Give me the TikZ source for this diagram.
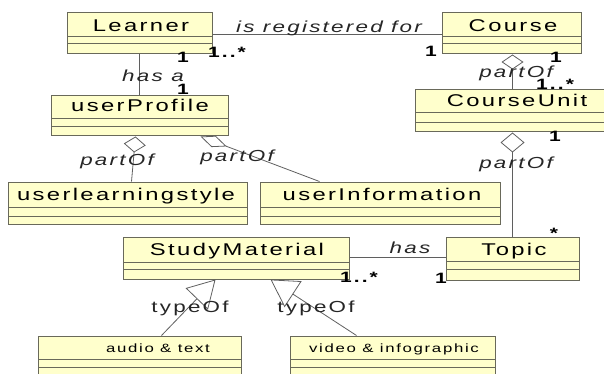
\documentclass[tikz,border=0pt]{standalone}
\usepackage{fontspec}
\setmainfont{Liberation Sans}[FakeStretch=1.4,LetterSpace=14]
\usetikzlibrary{arrows.meta,fit,calc}
\definecolor{classfill}{RGB}{255,255,204}
\definecolor{classline}{RGB}{105,105,90}
\definecolor{linkgray}{RGB}{95,95,95}
\tikzset{
  classbox/.style={draw=classline, fill=classfill, line width=1pt, inner sep=0pt},
  divider/.style={draw=classline, line width=0.8pt},
  classtitle/.style={inner sep=0pt, anchor=base, font=\fontsize{17}{19}\selectfont},
  smalltitle/.style={inner sep=0pt, anchor=base, font=\fontsize{12}{14}\selectfont},
  link/.style={draw=linkgray, line width=0.8pt},
  role/.style={inner sep=0pt, anchor=base, text=black!85, font=\fontsize{16}{18}\selectfont\itshape},
  kind/.style={inner sep=0pt, anchor=base, text=black!85, font=\fontsize{16}{18}\selectfont},
  mult/.style={inner sep=0pt, anchor=base, font=\fontsize{15}{17}\selectfont\bfseries},
}
% name, left, top, right, bottom, first divider, second divider
\newcommand{\umlclass}[7]{%
  \node[classbox, fit={(#2,#3) (#4,#5)}] (#1) {};
  \draw[divider] (#2,#6) -- (#4,#6);
  \draw[divider] (#2,#7) -- (#4,#7);
}
\begin{document}
\begin{tikzpicture}[x=1pt, y=-1pt]
            \useasboundingbox (0,0) rectangle (604,374);
            \clip (0,0) rectangle (604,374);
            % classes
            \umlclass{learner}{67}{13}{212}{54}{36}{43}
            \umlclass{course}{442}{13}{581}{54}{36}{43}
            \umlclass{profile}{51}{96}{228}{136}{118}{126}
            \umlclass{unit}{415}{90}{625}{132}{112}{122}
            \umlclass{style}{8}{182}{247}{224}{207}{216}
            \umlclass{info}{260}{182}{500}{224}{207}{216}
            \umlclass{material}{123}{237}{349}{279}{262}{269}
            \umlclass{topic}{446}{237}{579}{280}{261}{269}
            \umlclass{audio}{38}{336}{241}{390}{359}{367}
            \umlclass{video}{290}{336}{495}{390}{359}{367}
            % titles
            \node[classtitle] (learner-t)  at (141,32)  {Learner};
            \node[classtitle] (course-t)   at (513,32)  {Course};
            \node[classtitle] (profile-t)  at (140,112) {userProfile};
            \node[classtitle] (unit-t)     at (517,107) {CourseUnit};
            \node[classtitle] (style-t)    at (126,200) {userlearningstyle};
            \node[classtitle] (info-t)     at (382,200) {userInformation};
            \node[classtitle] (material-t) at (237,255) {StudyMaterial};
            \node[classtitle] (topic-t)    at (514,255) {Topic};
            \node[smalltitle] (audio-t)    at (158,352) {audio \& text};
            \node[smalltitle] (video-t)    at (394,352) {video \& infographic};
            % associations
            \draw[link] ($(learner.north east)+(0,22)$) -- ($(course.north west)+(0,22)$);
            \draw[link] (learner.south) -- (learner.south |- profile.north);
            \draw[link] ($(material.north east)+(0,21)$) -- ($(topic.north west)+(0,21)$);
            % aggregations
            \draw[link, {Diamond[fill=white,length=15pt,width=22pt]}-] (topic.north |- course.south) -- (topic.north |- unit.north);
            \draw[link, {Diamond[fill=white,length=20pt,width=24pt]}-] (topic.north |- unit.south) -- (topic.north);
            \draw[link, {Diamond[fill=white,length=16pt,width=22pt]}-] ($(profile.south west)+(85,0)$) -- ($(style.north west)+(124,0)$);
            \draw[link, {Diamond[fill=white,length=28pt,width=12pt]}-] ($(profile.south west)+(150,0)$) -- ($(info.north west)+(60,0)$);
            % generalizations
            \draw[link, -{Triangle[open,length=27pt,width=31pt]}] ($(audio.north west)+(124,0)$) -- ($(material.south west)+(93,0)$);
            \draw[link, -{Triangle[open,length=27pt,width=31pt]}] ($(video.north west)+(67,0)$) -- ($(material.south west)+(148,0)$);
            % labels
            \node[role] (reg-l)   at (329,33)  {is registered for};
            \node[role] (hasa-l)  at (153,82)  {has a};
            \node[role] (part1-l) at (516,78)  {partOf};
            \node[role] (part2-l) at (516,168) {partOf};
            \node[role] (part3-l) at (117,165) {partOf};
            \node[role] (part4-l) at (237,161) {partOf};
            \node[role] (has-l)   at (410,253) {has};
            \node[kind] (type1-l) at (190,312) {typeOf};
            \node[kind] (type2-l) at (316,312) {typeOf};
            % multiplicities
            \node[mult] (m1)  at (183,63)  {1};
            \node[mult] (m2)  at (227,58)  {1..*};
            \node[mult] (m3)  at (431,57)  {1};
            \node[mult] (m4)  at (183,95)  {1};
            \node[mult] (m5)  at (556,63)  {1};
            \node[mult] (m6)  at (555,90)  {1..*};
            \node[mult] (m7)  at (555,142) {1};
            \node[mult] (m8)  at (554,238) {*};
            \node[mult] (m9)  at (359,282) {1..*};
            \node[mult] (m10) at (441,283) {1};
\end{tikzpicture}
\end{document}
